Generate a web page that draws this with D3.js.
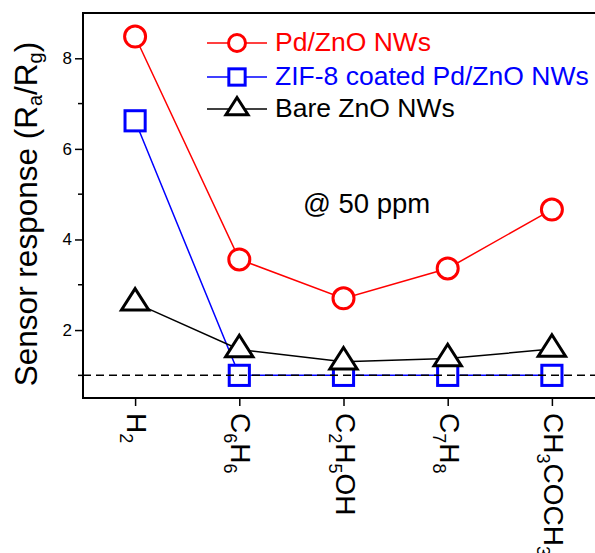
<!DOCTYPE html>
<html>
<head>
<meta charset="utf-8">
<script src="https://cdn.jsdelivr.net/npm/d3@7"></script>
<style>
  body { margin: 0; background: #fff; }
  svg { display: block; font-family: "Liberation Sans", Arial, sans-serif; }
</style>
</head>
<body>
<div id="chart"></div>
<script>
// gases on the x axis, as [main, sub, main, sub...] pieces
const gases = ["H2", "C6H6", "C2H5OH", "C7H8", "CH3COCH3"];
const gasParts = [
    [["H", 0], ["2", 1]],
    [["C", 0], ["6", 1], ["H", 0], ["6", 1]],
    [["C", 0], ["2", 1], ["H", 0], ["5", 1], ["OH", 0]],
    [["C", 0], ["7", 1], ["H", 0], ["8", 1]],
    [["CH", 0], ["3", 1], ["COCH", 0], ["3", 1]]
];

const pdZnO = [8.48, 3.56, 2.70, 3.36, 4.66];
const zifPdZnO = [6.62, 1.0, 1.0, 1.0, 1.0];
const bareZnO = [2.60, 1.57, 1.30, 1.37, 1.58];

const seriesNames = ["Pd/ZnO NWs", "ZIF-8 coated Pd/ZnO NWs", "Bare ZnO NWs"];
const seriesColors = ["#ff0000", "#0000ff", "#000000"];
const seriesShapes = ["circle", "square", "triangle"];
const seriesValues = [pdZnO, zifPdZnO, bareZnO];

const yMajorTicks = [2, 4, 6, 8];
const yMinorTicks = [1, 3, 5, 7];
const baseline = 1.0;

const width = 595, height = 553;
const plotLeft = 83, plotTop = 13, plotBottom = 398, plotRight = 604;

const svg = d3.select("#chart").append("svg")
    .attr("width", width)
    .attr("height", height);

const x = d3.scalePoint()
    .domain(gases)
    .range([plotLeft, plotRight])
    .padding(0.5);

const y = d3.scaleLinear()
    .domain([0.5, 9])
    .range([plotBottom, plotTop]);

// draw a marker shape centred on (cx, cy)
function marker(g, shape, cx, cy, color, size) {
    if (shape == "circle") {
        g.append("circle")
            .attr("cx", cx).attr("cy", cy).attr("r", size * 0.5)
            .attr("fill", "#fff").attr("stroke", color).attr("stroke-width", 3);
    } else if (shape == "square") {
        g.append("rect")
            .attr("x", cx - size * 0.48).attr("y", cy - size * 0.48)
            .attr("width", size * 0.96).attr("height", size * 0.96)
            .attr("fill", "#fff").attr("stroke", color).attr("stroke-width", 3);
    } else {
        const w = size * 1.3, h = size * 1.02;
        const pts = [[cx, cy - h * 2 / 3], [cx + w / 2, cy + h / 3], [cx - w / 2, cy + h / 3]];
        g.append("path")
            .attr("d", "M" + pts.join("L") + "Z")
            .attr("fill", "#fff").attr("stroke", color).attr("stroke-width", 3)
            .attr("stroke-linejoin", "miter");
    }
}

// axes frame
svg.append("line")
    .attr("x1", plotLeft).attr("x2", width)
    .attr("y1", plotTop).attr("y2", plotTop)
    .attr("stroke", "#000").attr("stroke-width", 2);

const yAxis = svg.append("g")
    .attr("transform", `translate(${plotLeft},0)`)
    .call(d3.axisLeft(y).tickValues(yMajorTicks).tickSize(8).tickFormat(d3.format("d")));
yAxis.select(".domain").remove();
yAxis.selectAll(".tick line").attr("stroke-width", 1.5);
yAxis.selectAll(".tick text")
    .attr("x", -11)
    .style("font-size", "17px")
    .style("font-family", "Liberation Sans, Arial, sans-serif");

svg.append("g")
    .selectAll("line")
    .data(yMinorTicks)
    .join("line")
    .attr("x1", plotLeft - 5).attr("x2", plotLeft)
    .attr("y1", d => y(d)).attr("y2", d => y(d))
    .attr("stroke", "#000").attr("stroke-width", 1.5);

svg.append("line")
    .attr("x1", plotLeft).attr("x2", plotLeft)
    .attr("y1", plotTop - 1).attr("y2", plotBottom + 1)
    .attr("stroke", "#000").attr("stroke-width", 2);

const xAxis = svg.append("g")
    .attr("transform", `translate(0,${plotBottom})`)
    .call(d3.axisBottom(x).tickSize(8).tickFormat(""));
xAxis.select(".domain").remove();
xAxis.selectAll(".tick line").attr("stroke-width", 1.5);

svg.append("line")
    .attr("x1", plotLeft).attr("x2", width)
    .attr("y1", plotBottom).attr("y2", plotBottom)
    .attr("stroke", "#000").attr("stroke-width", 2);

// rotated gas labels with subscripts
gases.forEach((gas, i) => {
    const t = svg.append("text")
        .attr("transform", `translate(${x(gas) - 8},413) rotate(90)`)
        .style("font-size", "28px");
    let shifted = false;
    gasParts[i].forEach(([s, sub]) => {
        const ts = t.append("tspan").text(s);
        if (sub && !shifted) { ts.attr("dy", 7).style("font-size", "18px"); shifted = true; }
        else if (sub) { ts.style("font-size", "18px"); }
        else if (shifted) { ts.attr("dy", -7); shifted = false; }
    });
});

// y axis title
const yTitle = svg.append("text")
    .attr("transform", "translate(37,214) rotate(-90)")
    .attr("text-anchor", "middle")
    .style("font-size", "31.5px");
yTitle.append("tspan").text("Sensor response (R");
yTitle.append("tspan").text("a").attr("dy", 5).style("font-size", "20px");
yTitle.append("tspan").text("/R").attr("dy", -5);
yTitle.append("tspan").text("g").attr("dy", 5).style("font-size", "20px");
yTitle.append("tspan").text(")").attr("dy", -5);

// series lines
const line = d3.line()
    .x((d, i) => x(gases[i]))
    .y(d => y(d));

seriesValues.forEach((vals, s) => {
    svg.append("path")
        .datum(vals)
        .attr("fill", "none")
        .attr("stroke", seriesColors[s])
        .attr("stroke-width", 1.5)
        .attr("d", line);
});

// markers
seriesValues.forEach((vals, s) => {
    const g = svg.append("g");
    vals.forEach((v, i) => marker(g, seriesShapes[s], x(gases[i]), y(v), seriesColors[s], 21));
});

// dashed reference line
svg.append("line")
    .attr("x1", plotLeft).attr("x2", width)
    .attr("y1", y(baseline)).attr("y2", y(baseline))
    .attr("stroke", "#000").attr("stroke-width", 1.5)
    .attr("stroke-dasharray", "8,5");

// annotation
svg.append("text")
    .attr("x", 303).attr("y", 213)
    .style("font-size", "27.5px")
    .text("@ 50 ppm");

// legend
const legendY = [43, 77, 109];
seriesNames.forEach((name, s) => {
    const g = svg.append("g");
    g.append("line")
        .attr("x1", 207).attr("x2", 267)
        .attr("y1", legendY[s]).attr("y2", legendY[s])
        .attr("stroke", seriesColors[s]).attr("stroke-width", 1.5);
    marker(g, seriesShapes[s], 237, legendY[s], seriesColors[s], 17);
    g.append("text")
        .attr("x", 275).attr("y", legendY[s] + 8)
        .attr("fill", seriesColors[s])
        .style("font-size", "26.5px")
        .text(name);
});
</script>
</body>
</html>
